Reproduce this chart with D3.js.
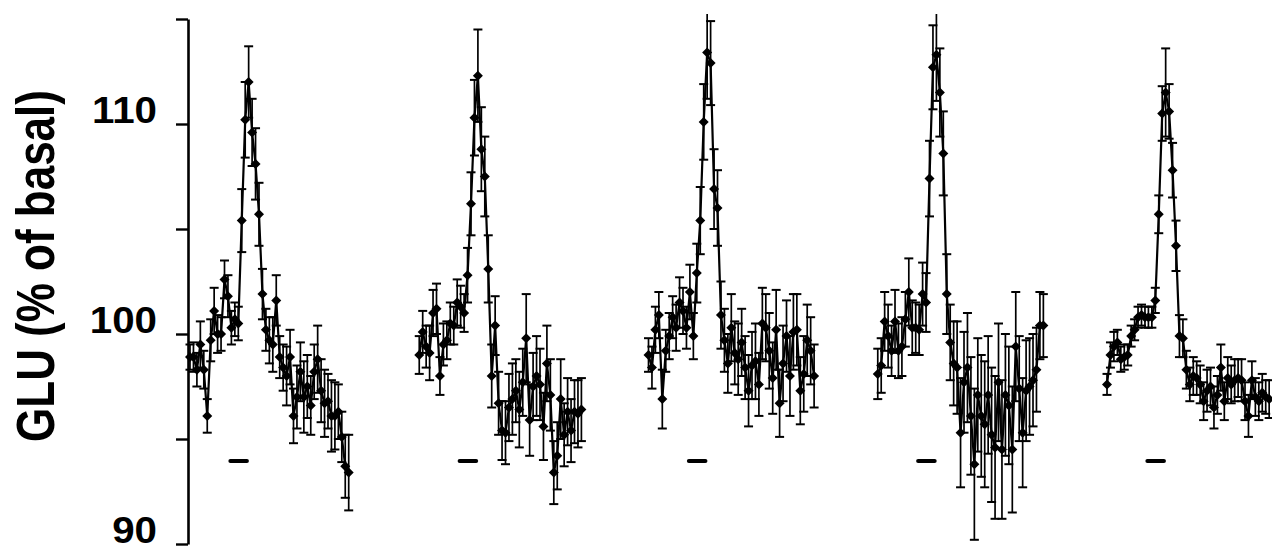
<!DOCTYPE html>
<html><head><meta charset="utf-8">
<script src="https://cdn.jsdelivr.net/npm/d3@7"></script>
<style>body{margin:0;background:#fff;} svg{display:block;}</style>
</head><body><svg id="chart" width="1272" height="554"></svg>
<script>
// ---------- data ----------
const yTicks = [90, 95, 100, 105, 110, 115];
const yTickLabels = [90, 100, 110];
const yTitle = "GLU (% of basal)";

const trace1 = [98.9,98.9,98.3,99.5,98.3,96.1,99.7,101.1,100.0,100.0,102.6,101.8,100.3,100.7,100.5,105.4,110.2,112.0,109.6,108.1,105.7,101.9,100.2,99.7,99.5,101.6,98.9,98.4,98.0,98.9,96.1,97.0,98.2,97.0,97.5,96.6,98.2,98.8,97.3,96.7,96.8,96.1,96.1,96.3,95.1,93.7,93.4];
const err1   = [0.6,0.7,0.8,1.1,0.9,0.8,1.0,1.1,0.9,0.8,0.9,1.0,0.8,0.8,0.8,1.5,1.8,1.7,1.6,1.7,1.5,1.2,1.0,1.1,1.3,1.2,1.0,1.1,1.4,1.3,1.3,1.5,1.4,1.7,1.5,1.4,1.3,1.6,1.5,1.6,1.3,1.7,1.6,1.3,1.2,1.5,1.8];

const trace2 = [99.0,100.1,99.4,99.1,101.0,101.2,98.0,99.5,99.7,100.5,100.4,101.5,101.3,101.0,102.8,106.2,110.3,112.3,108.8,107.5,103.1,98.0,100.4,96.7,95.4,95.3,96.5,96.9,97.3,96.4,97.7,99.8,95.9,97.5,98.0,97.6,95.6,98.6,97.1,93.4,94.2,96.9,95.2,96.3,95.4,96.3,96.2,96.4];
const err2   = [0.9,1.0,1.0,1.3,1.1,1.2,0.9,1.0,0.9,1.0,0.9,1.1,1.0,0.9,1.3,1.5,1.8,2.2,2.0,1.9,1.6,1.5,1.4,1.5,1.4,1.5,1.6,1.7,1.5,1.8,1.6,2.1,1.7,1.6,1.9,1.7,1.6,1.8,1.7,1.5,1.6,1.9,1.5,1.6,1.5,1.5,1.6,1.5];

const trace3 = [99.0,98.4,100.2,100.9,96.9,99.2,99.9,100.8,100.3,101.5,101.1,100.3,102.0,99.9,102.9,105.4,110.1,113.4,112.9,106.9,106.0,100.9,99.7,98.6,100.3,99.1,98.8,99.6,98.4,97.3,98.5,98.7,97.6,100.5,100.3,99.2,97.9,100.2,96.7,98.6,99.9,98.0,100.1,100.2,97.3,98.1,99.7,99.2,98.0];
const err3   = [0.8,1.0,1.1,1.1,1.4,1.0,1.1,1.0,1.1,1.2,1.1,1.0,1.3,1.1,1.4,1.6,1.8,2.2,2.0,1.9,1.8,1.6,1.5,1.4,1.6,1.5,1.7,1.6,1.5,1.7,1.6,1.8,1.5,1.7,1.6,1.8,1.7,1.9,1.6,1.8,1.7,1.9,1.8,1.7,1.6,1.8,1.7,1.6,1.5];

const trace4 = [98.1,98.5,100.6,99.9,99.2,100.6,99.2,99.4,100.7,102.0,100.3,100.3,100.2,101.9,101.5,107.4,112.7,113.3,111.5,108.6,101.9,99.6,98.6,98.4,95.3,97.7,98.4,96.1,93.8,97.1,96.1,95.7,97.1,95.2,94.6,97.7,94.5,97.1,96.6,94.5,99.4,97.4,95.3,97.3,97.5,97.8,98.3,100.4,100.4];
const err4   = [1.2,1.3,1.4,1.5,1.2,1.5,1.3,1.4,1.3,1.6,1.3,1.2,1.2,1.5,1.4,1.8,2.0,2.2,2.1,2.0,1.9,1.8,2.0,2.2,2.6,2.4,2.6,2.8,3.6,2.7,2.9,3.0,2.8,3.2,3.4,2.8,3.3,2.9,2.8,3.0,2.6,2.5,2.6,2.4,2.3,2.2,2.0,1.6,1.5];

const trace5 = [97.6,99.0,99.4,99.6,98.8,98.9,99.0,99.9,100.2,100.8,100.9,100.8,100.8,100.8,101.6,105.7,110.5,111.5,110.6,107.8,104.2,99.9,99.8,98.3,97.6,98.0,97.9,97.6,96.8,97.3,97.5,96.5,97.1,98.4,96.8,97.9,97.6,97.8,97.9,97.8,96.8,96.1,97.8,97.0,96.8,97.2,97.0,96.9];
const err5   = [0.5,0.6,0.7,0.6,0.6,0.6,0.5,0.5,0.5,0.5,0.5,0.5,0.5,0.5,0.6,0.9,1.3,2.1,1.3,1.3,1.2,1.0,0.9,0.9,0.8,0.9,0.8,0.9,0.9,1.0,0.9,1.0,0.9,1.1,0.9,1.0,0.9,1.0,0.9,1.0,0.9,1.0,0.9,0.9,0.9,0.9,0.8,0.9];

const segmentSamples = 66.45;   // samples between the starts of consecutive recordings
const stimStart = 11.7, stimEnd = 16.5, stimLevel = 93.95;

// ---------- chart ----------
const FONT = "'Liberation Sans', Arial, Helvetica, sans-serif";
const traces = [[trace1, err1], [trace2, err2], [trace3, err3], [trace4, err4], [trace5, err5]];
const svg = d3.select("#chart");
const y = d3.scaleLinear().domain([90, 115]).range([544, 19]);
const x = d3.scaleLinear().domain([0, 100]).range([190, 535]);

svg.append("defs").append("clipPath").attr("id", "clip")
  .append("rect").attr("x", 0).attr("y", 14).attr("width", 1272).attr("height", 540);

const plot = svg.append("g").attr("clip-path", "url(#clip)");

traces.forEach(([vals, errs], k) => {
  const pts = vals.map((v, i) => ({ s: k * segmentSamples + i, v, e: errs[i] }));
  const g = plot.append("g");
  const eb = g.selectAll("g.eb").data(pts).join("g").attr("class", "eb");
  eb.append("line").attr("x1", d => x(d.s)).attr("x2", d => x(d.s))
    .attr("y1", d => y(d.v - d.e)).attr("y2", d => y(d.v + d.e))
    .attr("stroke", "#000").attr("stroke-width", 1.7);
  [1, -1].forEach(sg => {
    eb.append("line").attr("x1", d => x(d.s) - 4.5).attr("x2", d => x(d.s) + 4.5)
      .attr("y1", d => y(d.v + sg * d.e)).attr("y2", d => y(d.v + sg * d.e))
      .attr("stroke", "#000").attr("stroke-width", 2);
  });
  g.append("path").datum(pts)
    .attr("d", d3.line().x(d => x(d.s)).y(d => y(d.v)))
    .attr("fill", "none").attr("stroke", "#000").attr("stroke-width", 2.2);
  g.selectAll("path.pt").data(pts).join("path").attr("class", "pt")
    .attr("d", d3.symbol(d3.symbolSquare, 50))
    .attr("transform", d => `translate(${x(d.s)},${y(d.v)}) rotate(45)`)
    .attr("fill", "#000");
  svg.append("line")
    .attr("x1", x(k * segmentSamples + stimStart)).attr("x2", x(k * segmentSamples + stimEnd))
    .attr("y1", y(stimLevel)).attr("y2", y(stimLevel))
    .attr("stroke", "#000").attr("stroke-width", 4).attr("stroke-linecap", "round");
});

// y axis (line + ticks from d3 axis, labels drawn separately)
const axis = d3.axisLeft(y).tickValues(yTicks).tickSize(12).tickSizeOuter(0).tickFormat("");
const ag = svg.append("g").attr("transform", "translate(188,0)").call(axis);
ag.select(".domain").attr("stroke", "#000").attr("stroke-width", 2.6);
ag.selectAll(".tick line").attr("stroke", "#000").attr("stroke-width", 2.4);

svg.append("g").selectAll("text").data(yTickLabels).join("text")
  .attr("transform", d => `translate(157,${y(d) - 1}) scale(1.09,1)`)
  .attr("text-anchor", "end")
  .attr("font-family", FONT).attr("font-weight", "bold").attr("font-size", 37)
  .attr("fill", "#000")
  .text(d => d);

svg.append("text")
  .attr("transform", "translate(54,266) scale(1.2,1) rotate(-90)")
  .attr("text-anchor", "middle")
  .attr("font-family", FONT).attr("font-weight", "bold").attr("font-size", 44)
  .attr("fill", "#000")
  .text(yTitle);
</script></body></html>
